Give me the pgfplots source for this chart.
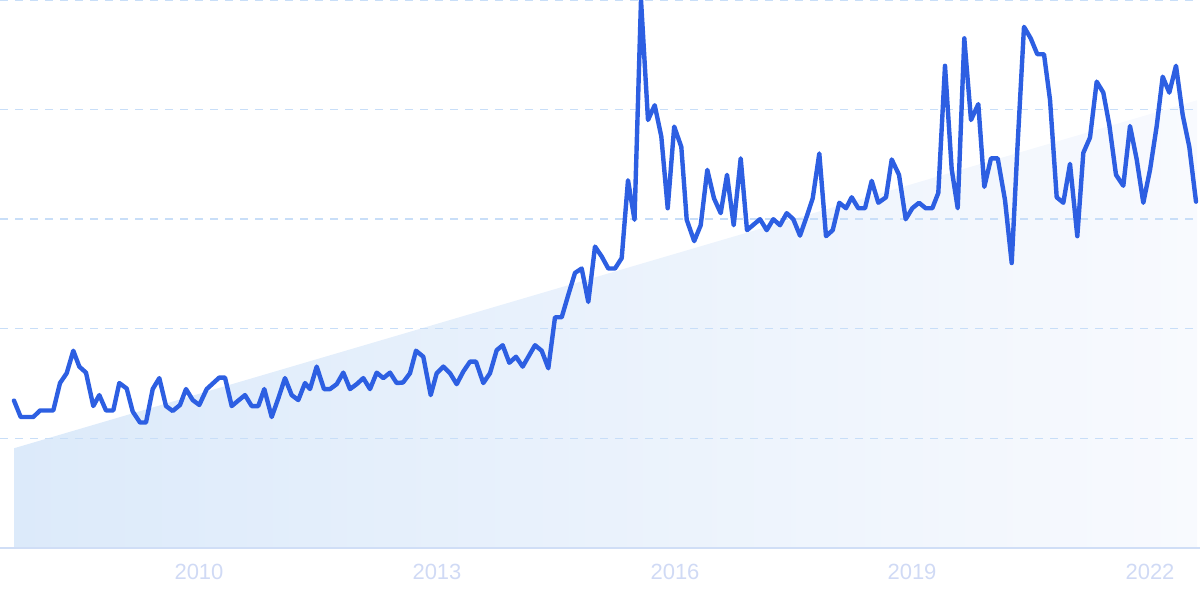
\documentclass[border=0pt]{standalone}
\usepackage{pgfplots}
\pgfplotsset{compat=1.18}
\usepackage{pgfplotstable}
\usepackage{fontspec}
\setmainfont{Liberation Sans}
\definecolor{lineblue}{RGB}{45,95,226}
\definecolor{gridblue}{RGB}{200,222,248}
\definecolor{axisblue}{RGB}{208,222,246}
\definecolor{labelblue}{RGB}{208,218,245}
\definecolor{fillA}{RGB}{220,234,250}
\definecolor{fillB}{RGB}{248,250,254}

\pgfplotstableread{
x y
14 26.9
20.7 23.9
33.3 23.9
40 25.1
53.3 25.1
60 30.1
66.7 31.9
73.3 36.0
79.3 33.1
86 32.0
93.3 25.9
99.3 27.9
106 25.1
113.3 25.1
119.3 30.1
126.7 29.1
132.7 24.9
140 22.9
146 22.9
152.7 29.0
159.3 31.0
166 25.9
172.7 25.0
180 26.1
186 29.0
192.7 27.0
199.3 26.1
206.7 29.0
213.3 30.1
219.3 31.1
225 31.1
231.7 25.9
238.3 26.9
245 27.9
251.7 25.9
258.3 25.9
264.3 29.0
271.7 23.9
278.3 27.3
285 31.0
291.7 27.9
298.3 27.0
305 30.1
310 29.0
316.7 33.1
324 29.0
330 29.0
336.7 29.9
343.3 32.0
350 29.0
356.7 29.9
363.3 31.0
370 29.0
376.7 32.0
383.3 31.0
390 32.0
396.7 30.1
403 30.2
410 31.9
416 36.0
423.3 34.9
430.7 27.9
436.7 31.9
443.3 33.1
450 31.9
456.7 29.9
463.3 32.2
470 34.0
476 34.0
483.3 30.1
490 31.9
496.7 36.1
502.7 37.0
509.3 33.8
516 34.9
522.7 33.1
529.3 35.2
535 37.0
541.7 36.0
548.3 32.8
555 42.1
561.7 42.1
568.3 46.2
575 50.2
581.7 51.0
588.3 44.9
595 55.0
601.7 53.2
608.3 51.0
615 51.0
621.7 52.9
628 67.1
634.5 59.9
641 100
648 78.1
654.7 80.8
661.3 75.1
667.7 62.0
674.2 76.9
681.3 73.2
686.7 59.9
694.2 56.0
700.7 58.9
707.3 69.0
714 63.8
720.7 61.1
727 68.1
733.7 58.9
740.7 71.1
747 58.0
760 60.0
766.7 58.0
773.3 60.0
780 58.9
786.7 61.1
793.3 60.0
800 57.0
806.7 60.5
812.7 63.8
819.3 72.0
826 56.9
832.7 58.0
839.3 63.0
846 62.0
851.7 64.0
858.3 62.0
865 62.0
871.7 67.0
878.3 63.0
886 64.0
891.7 70.9
899 68.1
905.7 60.0
912.3 62.0
919 63.0
925.7 62.0
932.3 62.0
938.3 64.8
945 88.0
951.7 69.1
957.7 62.0
964.3 93.0
971 78.1
978.3 81.0
984.3 65.9
991 71.1
997.7 71.1
1005 63.5
1011.7 52.0
1017.3 72.6
1024 95.1
1030.7 93.0
1037.3 90.1
1044 90.1
1050 81.8
1056.7 64.0
1063.3 63.0
1070 70.1
1077.3 56.9
1083.3 72.1
1090 74.9
1096.7 85.1
1103.3 83.1
1109.3 77.2
1116 68.1
1123.3 66.1
1130 77.0
1136.7 70.9
1143.3 63.0
1150 69.0
1156.7 77.0
1162.7 86.0
1169.3 83.1
1176 88.0
1182.7 79.0
1189.3 73.2
1196 63.2
}\datatable

\pgfplotstableread{
x y
14 0
14 18.2
1197 81.7
1197 0
}\trendtable

\begin{document}
\begin{tikzpicture}
\begin{axis}[
  set layers,
  scale only axis,
  width=600pt, height=274pt,
  xmin=0, xmax=1200, ymin=0, ymax=100,
  axis x line*=bottom, axis y line*=left,
  x axis line style={-, draw=axisblue, line width=1pt},
  y axis line style={draw=none},
  xtick={199,437,675,912,1150},
  xticklabels={2010,2013,2016,2019,2022},
  ytick={20,40,60,80,100},
  yticklabels={},
  major tick length=0pt,
  ymajorgrids,
  grid style={gridblue, line width=0.7pt, dash pattern=on 4pt off 3.5pt},
  xticklabel style={font=\fontsize{11}{13}\selectfont, text=labelblue, anchor=north, inner sep=0pt, yshift=-8pt},
  clip=false,
]
\addplot[on layer=axis background, draw=none, left color=fillA, right color=fillB] table[x=x,y=y] {\trendtable} -- cycle;
\addplot[lineblue, line width=2.2pt, line join=round, line cap=round] table[x=x,y=y] {\datatable};
\end{axis}
\pgfresetboundingbox
\useasboundingbox (0,-26pt) rectangle (600pt,274pt);
\end{tikzpicture}
\end{document}
